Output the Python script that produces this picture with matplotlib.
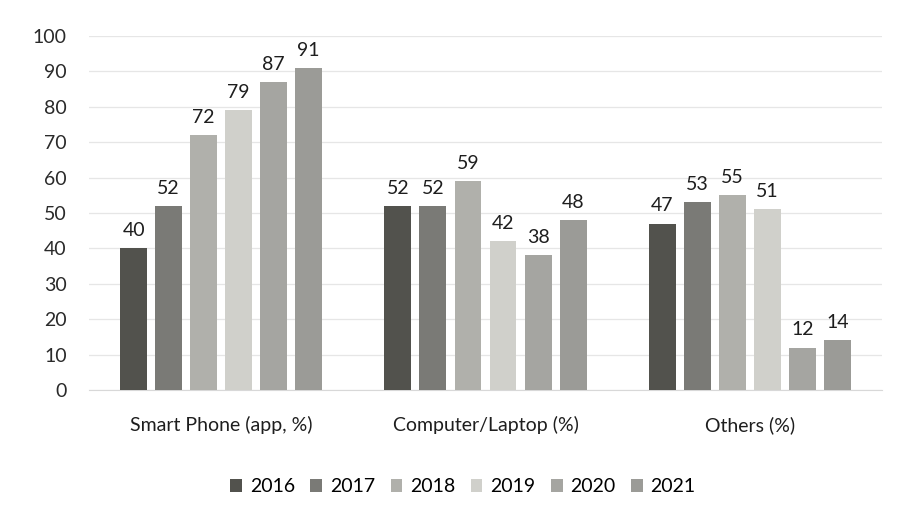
import matplotlib
matplotlib.use("Agg")
import matplotlib.pyplot as plt
import numpy as np

categories = ["Smart Phone (app, %)", "Computer/Laptop (%)", "Others (%)"]
years = ["2016", "2017", "2018", "2019", "2020", "2021"]
values = {
    "2016": [40, 52, 47],
    "2017": [52, 52, 53],
    "2018": [72, 59, 55],
    "2019": [79, 42, 51],
    "2020": [87, 38, 12],
    "2021": [91, 48, 14],
}
colors = ["#52524d", "#7a7a76", "#b0b0ab", "#d0d0cb", "#a5a5a1", "#9b9b97"]
y_ticks = [0, 10, 20, 30, 40, 50, 60, 70, 80, 90, 100]

plt.rcParams["font.family"] = ["Lato", "DejaVu Sans"]
FS = 14

fig = plt.figure(figsize=(9.04, 5.19), dpi=100)
ax = fig.add_axes([89 / 904, 1 - 390 / 519, (882 - 89) / 904, (390 - 36) / 519])

x = np.arange(len(categories))
step = 0.1325
width = 0.102
for i, (yr, col) in enumerate(zip(years, colors)):
    pos = x + (i - 2.5) * step
    bars = ax.bar(pos, values[yr], width=width, color=col, label=yr, zorder=3)
    for b, v in zip(bars, values[yr]):
        ax.text(b.get_x() + b.get_width() / 2, v + 2.6, str(v),
                ha="center", va="bottom", fontsize=FS, color="#1e1e1e")

ax.set_xlim(-0.5, 2.5)
ax.set_ylim(0, 100)
ax.set_yticks(y_ticks)
ax.set_yticklabels([str(t) for t in y_ticks], fontsize=FS, color="#2a2a2a")
ax.set_xticks(x)
ax.set_xticklabels(categories, fontsize=FS, color="#1e1e1e")
ax.tick_params(axis="both", length=0)
ax.tick_params(axis="y", pad=16)
ax.tick_params(axis="x", pad=19)
ax.grid(axis="y", color="#e6e6e6", linewidth=0.9, zorder=0)
for s in ["top", "right", "left"]:
    ax.spines[s].set_visible(False)
ax.spines["bottom"].set_color("#d8d8d8")

fig.legend(loc="center", bbox_to_anchor=(463 / 904, 1 - 487 / 519), ncol=6,
           frameon=False, fontsize=FS, handlelength=0.6, handleheight=0.6,
           handletextpad=0.4, columnspacing=0.8)

fig.savefig("out.png", dpi=100, facecolor="white")
